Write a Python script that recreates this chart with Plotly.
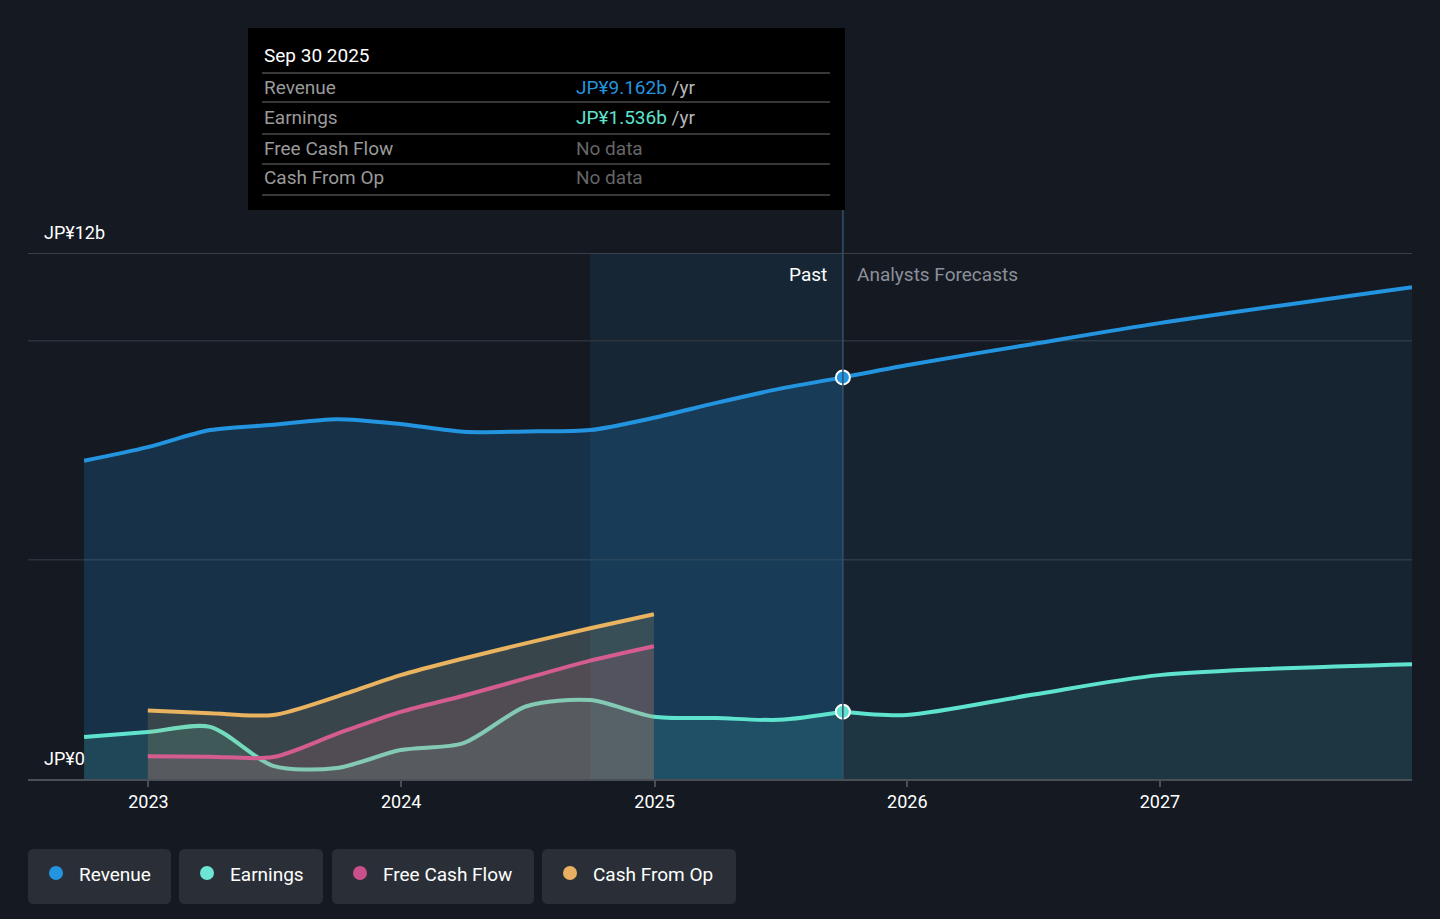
import plotly.graph_objects as go

# ---------------- data (JP¥ billions) ----------------
past_dates = ['2022-09-30', '2022-12-31', '2023-03-31', '2023-06-30', '2023-09-30',
              '2023-12-31', '2024-03-31', '2024-06-30', '2024-09-30', '2024-12-31',
              '2025-03-31', '2025-06-30', '2025-09-30']
revenue_past = [7.26, 7.57, 7.96, 8.08, 8.21, 8.10, 7.92, 7.93, 7.96, 8.24, 8.58, 8.90, 9.162]
earnings_past = [0.96, 1.07, 1.19, 0.30, 0.25, 0.66, 0.82, 1.66, 1.80, 1.42, 1.39, 1.35, 1.536]

fc_dates = ['2025-09-30', '2025-12-31', '2026-06-30', '2026-12-31', '2027-12-31']
revenue_fc = [9.162, 9.44, 9.92, 10.40, 11.22]
earnings_fc = [1.536, 1.46, 1.92, 2.37, 2.62]

cash_dates = ['2022-12-31', '2023-03-31', '2023-06-30', '2023-09-30', '2023-12-31',
              '2024-03-31', '2024-06-30', '2024-09-30', '2024-12-31']
fcf = [0.52, 0.51, 0.50, 1.03, 1.53, 1.90, 2.30, 2.70, 3.03]
cfo = [1.56, 1.50, 1.46, 1.88, 2.37, 2.75, 3.10, 3.44, 3.76]

year_ticks = ['2023-01-01', '2024-01-01', '2025-01-01', '2026-01-01', '2027-01-01']
year_labels = ['2023', '2024', '2025', '2026', '2027']

tooltip_date = 'Sep 30 2025'
tooltip_rows = [('Revenue', 'JP¥9.162b', '#2394df'),
                ('Earnings', 'JP¥1.536b', '#5ee3cf'),
                ('Free Cash Flow', None, None),
                ('Cash From Op', None, None)]
legend_items = [('Revenue', '#2394df'), ('Earnings', '#6de5d4'),
                ('Free Cash Flow', '#c9508a'), ('Cash From Op', '#e8b060')]

# ---------------- styling ----------------
BG = '#151a22'
C_REV = '#2394e0'
C_EARN = '#5ee3cf'
C_FCF = '#d55c8e'
C_CFO = '#e9b35f'
FONT = 'Roboto'

W, H = 1440, 919
L, R, T, B = 28, 28, 253, 140
PW, PH = W - L - R, H - T - B


def px(x):
    return (x - L) / PW


def py(y):
    return (H - B - y) / PH


fig = go.Figure()

# revenue
fig.add_trace(go.Scatter(x=past_dates, y=revenue_past, mode='lines', fill='tozeroy',
                         fillcolor='rgba(35,148,224,0.20)',
                         line=dict(color=C_REV, width=4, shape='spline', smoothing=0.8)))
fig.add_trace(go.Scatter(x=fc_dates, y=revenue_fc, mode='lines', fill='tozeroy',
                         fillcolor='rgba(35,148,224,0.08)',
                         line=dict(color=C_REV, width=4, shape='spline', smoothing=0.8)))
# earnings
fig.add_trace(go.Scatter(x=past_dates, y=earnings_past, mode='lines', fill='tozeroy',
                         fillcolor='rgba(94,227,207,0.12)',
                         line=dict(color=C_EARN, width=4, shape='spline', smoothing=0.8)))
fig.add_trace(go.Scatter(x=fc_dates, y=earnings_fc, mode='lines', fill='tozeroy',
                         fillcolor='rgba(94,227,207,0.10)',
                         line=dict(color=C_EARN, width=4, shape='spline', smoothing=0.8)))
# cash fills (drawn over the earnings line)
fig.add_trace(go.Scatter(x=cash_dates, y=fcf, mode='none', fill='tozeroy',
                         fillcolor='rgba(213,92,142,0.16)',
                         line=dict(shape='spline', smoothing=0.8)))
fig.add_trace(go.Scatter(x=cash_dates, y=cfo, mode='none', fill='tozeroy',
                         fillcolor='rgba(233,179,95,0.16)',
                         line=dict(shape='spline', smoothing=0.8)))
fig.add_trace(go.Scatter(x=cash_dates, y=fcf, mode='lines',
                         line=dict(color=C_FCF, width=4, shape='spline', smoothing=0.8)))
fig.add_trace(go.Scatter(x=cash_dates, y=cfo, mode='lines',
                         line=dict(color=C_CFO, width=4, shape='spline', smoothing=0.8)))
# markers at the present
fig.add_trace(go.Scatter(x=[past_dates[-1]], y=[revenue_past[-1]], mode='markers',
                         marker=dict(color=C_REV, size=14, line=dict(color='white', width=2))))
fig.add_trace(go.Scatter(x=[past_dates[-1]], y=[earnings_past[-1]], mode='markers',
                         marker=dict(color=C_EARN, size=14, line=dict(color='white', width=2))))

shapes = []
# past (last year) highlight band
shapes.append(dict(type='rect', xref='x', yref='paper', x0='2024-09-30', x1='2025-09-30',
                   y0=0, y1=1, fillcolor='rgba(35,148,224,0.10)', line=dict(width=0), layer='below'))
# gridlines
for v, c in [(5, '#2c323b'), (10, '#2c323b'), (12, '#474c54')]:
    shapes.append(dict(type='line', xref='paper', yref='y', x0=0, x1=1, y0=v, y1=v,
                       line=dict(color=c, width=1.5), layer='below'))
# present vertical line
shapes.append(dict(type='line', xref='x', yref='paper', x0='2025-09-30', x1='2025-09-30',
                   y0=0, y1=py(210), line=dict(color='#34506c', width=1.5)))
# tooltip box
shapes.append(dict(type='rect', xref='paper', yref='paper', x0=px(248), x1=px(845),
                   y0=py(210), y1=py(28), fillcolor='#000000', line=dict(width=0)))
for yy in [73, 102, 134, 164, 195]:
    shapes.append(dict(type='line', xref='paper', yref='paper', x0=px(262), x1=px(830),
                       y0=py(yy), y1=py(yy), line=dict(color='#4a4a4a', width=1.5)))


def rounded_rect(x0, y0, x1, y1, r):
    # pixel coords -> paper path
    X = lambda v: px(v)
    Y = lambda v: py(v)
    return (f"M {X(x0 + r)} {Y(y0)} L {X(x1 - r)} {Y(y0)} Q {X(x1)} {Y(y0)} {X(x1)} {Y(y0 + r)} "
            f"L {X(x1)} {Y(y1 - r)} Q {X(x1)} {Y(y1)} {X(x1 - r)} {Y(y1)} "
            f"L {X(x0 + r)} {Y(y1)} Q {X(x0)} {Y(y1)} {X(x0)} {Y(y1 - r)} "
            f"L {X(x0)} {Y(y0 + r)} Q {X(x0)} {Y(y0)} {X(x0 + r)} {Y(y0)} Z")


annotations = []
legend_boxes = [(28, 171), (179, 323), (332, 534), (542, 736)]
for (name, col), (x0, x1) in zip(legend_items, legend_boxes):
    shapes.append(dict(type='path', xref='paper', yref='paper',
                       path=rounded_rect(x0, 849, x1, 904, 6),
                       fillcolor='#2a2f37', line=dict(width=0)))
    shapes.append(dict(type='circle', xref='paper', yref='paper',
                       x0=px(x0 + 21), x1=px(x0 + 35), y0=py(866), y1=py(880),
                       fillcolor=col, line=dict(width=0)))
    annotations.append(dict(xref='paper', yref='paper', x=px(x0 + 49), y=py(874),
                            text=name, showarrow=False, xanchor='left', yanchor='middle',
                            font=dict(family=FONT, size=19, color='#ffffff')))

# tooltip text
annotations.append(dict(xref='paper', yref='paper', x=px(262), y=py(55), text=tooltip_date,
                        showarrow=False, xanchor='left', yanchor='middle',
                        font=dict(family=FONT, size=19, color='#ffffff')))
for i, (lab, val, col) in enumerate(tooltip_rows):
    yy = [87, 117, 148, 178][i]
    annotations.append(dict(xref='paper', yref='paper', x=px(262), y=py(yy), text=lab,
                            showarrow=False, xanchor='left', yanchor='middle',
                            font=dict(family=FONT, size=19, color='#9a9a9a')))
    if val is None:
        txt = "No data"
        fc = '#666666'
    else:
        txt = f"<span style='color:{col}'>{val}</span> /yr"
        fc = '#b8b8b8'
    annotations.append(dict(xref='paper', yref='paper', x=px(574), y=py(yy), text=txt,
                            showarrow=False, xanchor='left', yanchor='middle',
                            font=dict(family=FONT, size=19, color=fc)))

# axis value labels
annotations.append(dict(xref='paper', yref='paper', x=px(42), y=py(232), text='JP¥12b',
                        showarrow=False, xanchor='left', yanchor='middle',
                        font=dict(family=FONT, size=18, color='#ffffff')))
annotations.append(dict(xref='paper', yref='paper', x=px(42), y=py(758), text='JP¥0',
                        showarrow=False, xanchor='left', yanchor='middle',
                        font=dict(family=FONT, size=18, color='#ffffff')))
# past / forecast labels
annotations.append(dict(xref='x', yref='paper', x='2025-09-30', y=py(274), text='Past',
                        showarrow=False, xanchor='right', yanchor='middle', xshift=-14,
                        font=dict(family=FONT, size=19, color='#ffffff')))
annotations.append(dict(xref='x', yref='paper', x='2025-09-30', y=py(274), text='Analysts Forecasts',
                        showarrow=False, xanchor='left', yanchor='middle', xshift=12,
                        font=dict(family=FONT, size=19, color='#8c9099')))

fig.update_layout(
    width=W, height=H,
    margin=dict(l=L, r=R, t=T, b=B),
    paper_bgcolor=BG, plot_bgcolor=BG,
    showlegend=False, hovermode=False,
    shapes=shapes, annotations=annotations,
    font=dict(family=FONT, color='#ffffff'),
    xaxis=dict(type='date', range=['2022-07-11', '2027-12-31'],
               tickvals=year_ticks, ticktext=year_labels,
               showgrid=False, zeroline=False,
               showline=True, linecolor='#4a4f57', linewidth=1.5,
               ticks='outside', ticklen=6, tickcolor='#4a4f57', tickwidth=1.5,
               tickfont=dict(family=FONT, size=18, color='#ffffff')),
    yaxis=dict(range=[0, 12], showgrid=False, zeroline=False, showticklabels=False,
               showline=False),
)

fig.write_html(
    "out.html",
    config={'displayModeBar': False},
    post_script="document.body.style.margin='0';document.body.style.background='#151a22';"
                "document.body.style.overflow='hidden';",
)
